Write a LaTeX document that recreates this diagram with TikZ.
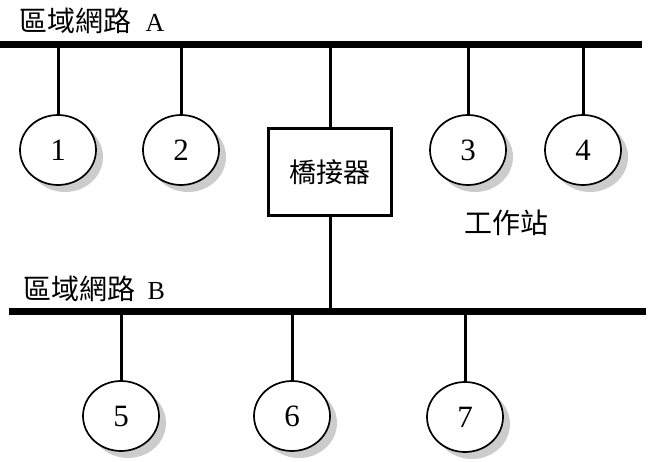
\documentclass[tikz,border=0pt]{standalone}
\usepackage{fontspec}
\setmainfont{Liberation Serif}
\newfontfamily\cjk{Noto Sans CJK TC}
\usetikzlibrary{shapes.geometric,shadows}

\begin{document}
\begin{tikzpicture}[x=1pt,y=-1pt,
 station/.style={ellipse,draw,line width=1.7pt,fill=white,minimum width=76pt,minimum height=70pt,inner sep=0pt,
  font=\fontsize{31}{34}\selectfont,
  drop shadow={shadow xshift=7pt,shadow yshift=-7pt,fill=black!20,opacity=1}},
 bridgebox/.style={draw,line width=3pt,minimum width=123pt,minimum height=87pt,inner sep=0pt,
  font=\cjk\fontsize{27}{30}\selectfont},
 bus/.style={line width=7pt},
 drop/.style={line width=3pt},
 lbl/.style={inner sep=0pt,font=\fontsize{26}{30}\selectfont}]
 \useasboundingbox (0,0) rectangle (650,462);
 %
 \coordinate (aW) at (0,45);
 \coordinate (aE) at (642,45);
 \coordinate (bW) at (9,311.5);
 \coordinate (bE) at (646,311.5);
 \draw[bus] (aW) -- (aE);
 \draw[bus] (bW) -- (bE);
 %
 \node[lbl,anchor=west] (labA) at (19,21) {{\cjk\fontsize{28}{30}\selectfont 區域網路}\hspace{8pt} A};
 \node[lbl,anchor=west] (labB) at (23,289) {{\cjk\fontsize{28}{30}\selectfont 區域網路}\hspace{6pt} B};
 \node[lbl,font=\cjk\fontsize{28}{30}\selectfont] (ws) at (506,223) {工作站};
 %
 \node[station] (s1) at (58,150) {1};
 \node[station] (s2) at (181,150) {2};
 \node[station] (s3) at (468,150) {3};
 \node[station] (s4) at (583,150) {4};
 \node[station] (s5) at (121,416) {5};
 \node[station] (s6) at (292,416) {6};
 \node[station] (s7) at (465,417) {7};
 \node[bridgebox] (br) at (330,172) {橋接器};
 %
 \foreach \s in {s1,s2,s3,s4}
  \draw[drop] (\s.north) -- (\s.north |- aW);
 \foreach \s in {s5,s6,s7}
  \draw[drop] (\s.north) -- (\s.north |- bW);
 %
 \draw[drop] (br.north) -- (br.north |- aW);
 \draw[drop] (br.south) -- (br.south |- bW);
\end{tikzpicture}
\end{document}
